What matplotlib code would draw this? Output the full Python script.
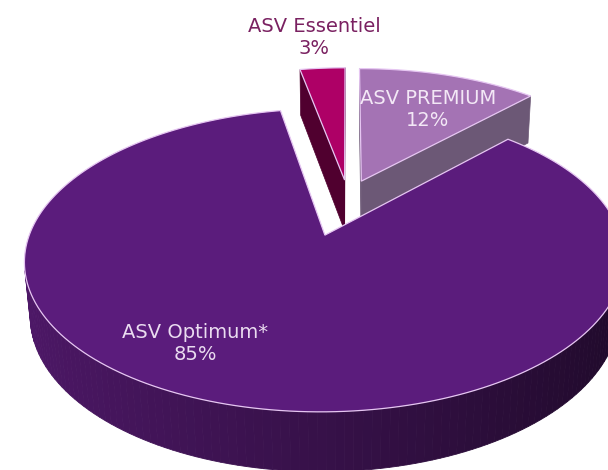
import numpy as np
import matplotlib.pyplot as plt
from matplotlib.patches import Polygon
from matplotlib.colors import to_rgb

labels = ['ASV Essentiel', 'ASV PREMIUM', 'ASV Optimum*']
shares = [3, 12, 85]
explode = [0.13, 0.13, 0.28]

top_colors = ['#AE0066', '#A473B4', '#5B1C7C']
side_colors = ['#50002F', '#6C5876', '#4E1868']
label_colors = ['#7A2161', '#F3E8F6', '#EADCF0']

# view set-up (pixel space of a 608x470 image)
VIEW_DIST = 5.6
TILT = np.radians(28)
FOCAL = 1640
STRETCH = 0.96
TOP = 0.08
HEIGHT = 0.2
CX, CY = 348, 218
label_xy = [(314, 37), (428, 110), (195, 343)]

cam = np.array([0, VIEW_DIST * np.sin(TILT), VIEW_DIST * np.cos(TILT)])


def project(p):
    x, y, z = p
    d = VIEW_DIST - y * np.sin(TILT) - z * np.cos(TILT)
    u = y * np.cos(TILT) - z * np.sin(TILT)
    return CX + FOCAL * x / d, CY - FOCAL * u / d


def world(phi, r, y, ox, oz):
    return np.array([STRETCH * (ox + r * np.sin(phi)), y, oz - r * np.cos(phi)])


def facing(normal, point):
    return np.dot(normal, cam - point) > 0


def shade(color, f):
    return tuple(np.clip(np.array(to_rgb(color)) * f, 0, 1))


fig = plt.figure(figsize=(6.08, 4.70), dpi=100)
ax = fig.add_axes([0, 0, 1, 1])
ax.set_xlim(0, 608)
ax.set_ylim(470, 0)
ax.axis('off')

total = sum(shares)
start = -360 * shares[0] / total
bounds = start + 360 * np.concatenate([[0], np.cumsum(shares)]) / total
top_y, bot_y = TOP, TOP - HEIGHT

for i in range(len(shares)):
    a0, a1 = np.radians(bounds[i]), np.radians(bounds[i + 1])
    mid = (a0 + a1) / 2
    ox, oz = explode[i] * np.sin(mid), -explode[i] * np.cos(mid)
    n = max(3, int(np.degrees(a1 - a0) / 1.5) + 2)
    phis = np.linspace(a0, a1, n)

    # radial cut faces
    for ang, sign in ((a0, -1), (a1, 1)):
        normal = sign * np.array([np.cos(ang) / STRETCH, 0, np.sin(ang)])
        if facing(normal, world(ang, 0.5, 0, ox, oz)):
            quad = [project(world(ang, 0, top_y, ox, oz)),
                    project(world(ang, 1, top_y, ox, oz)),
                    project(world(ang, 1, bot_y, ox, oz)),
                    project(world(ang, 0, bot_y, ox, oz))]
            ax.add_patch(Polygon(quad, closed=True, facecolor=side_colors[i],
                                 edgecolor=side_colors[i], lw=0.5))

    # outer wall
    for j in range(n - 1):
        pm = (phis[j] + phis[j + 1]) / 2
        normal = np.array([np.sin(pm) / STRETCH, 0, -np.cos(pm)])
        if not facing(normal, world(pm, 1, 0, ox, oz)):
            continue
        f = 0.7 - 0.3 * np.sin(pm)
        col = shade(side_colors[i], f)
        quad = [project(world(phis[j], 1, top_y, ox, oz)),
                project(world(phis[j + 1], 1, top_y, ox, oz)),
                project(world(phis[j + 1], 1, bot_y, ox, oz)),
                project(world(phis[j], 1, bot_y, ox, oz))]
        ax.add_patch(Polygon(quad, closed=True, facecolor=col, edgecolor=col, lw=0.6))

    # top face
    pts = [project(world(0, 0, top_y, ox, oz))]
    pts += [project(world(p, 1, top_y, ox, oz)) for p in phis]
    ax.add_patch(Polygon(pts, closed=True, facecolor=top_colors[i],
                         edgecolor='#E6C6F2', lw=0.9))

for i in range(len(shares)):
    ax.text(label_xy[i][0], label_xy[i][1], f'{labels[i]}\n{shares[i]}%',
            ha='center', va='center', fontsize=14, color=label_colors[i])

fig.savefig('out.png', dpi=100)
